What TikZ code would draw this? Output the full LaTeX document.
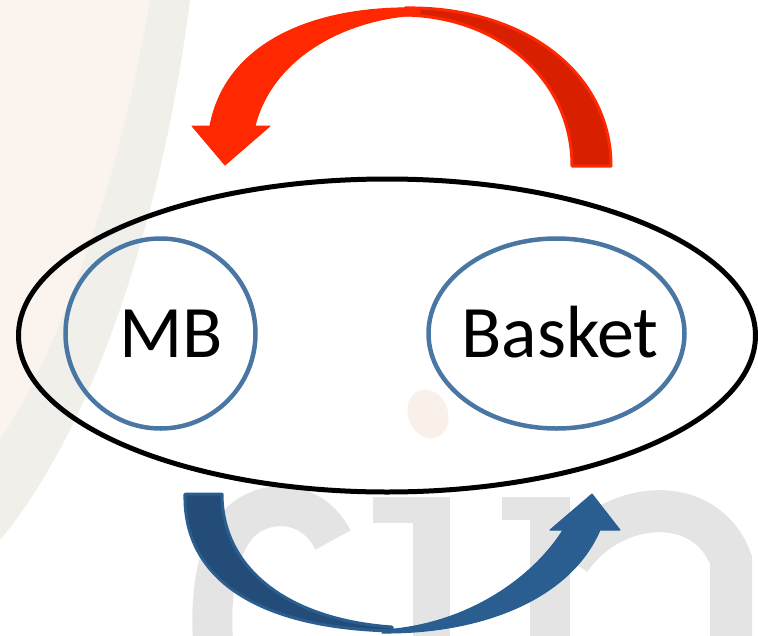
\documentclass[tikz,border=0pt]{standalone}
\usepackage{fontspec}
\setmainfont{Carlito}
\usetikzlibrary{shapes.geometric}
\definecolor{redfront}{HTML}{FF2800}
\definecolor{redback}{HTML}{D82000}
\definecolor{bluefront}{HTML}{2A5D90}
\definecolor{blueback}{HTML}{234C78}
\definecolor{ringblue}{HTML}{4A76A4}
\definecolor{wmgrey}{HTML}{E4E4E4}
\definecolor{wmpink}{HTML}{FBF3EE}
\definecolor{wmband}{HTML}{F0EFEA}
\definecolor{wmdot}{HTML}{FAF0EA}
\tikzset{
  outerring/.style={ellipse, draw=black, line width=5pt, inner sep=0pt},
  innerring/.style={ellipse, draw=ringblue, line width=4.5pt, inner sep=0pt, minimum height=190pt},
  lbl/.style={font=\fontsize{74}{80}\selectfont, inner sep=0pt, anchor=base},
  wm/.style={draw=wmgrey, line width=40pt},
  frontred/.style={fill=redfront, draw=redfront, line width=1pt, line join=round},
  backred/.style={fill=redback, draw=redfront, line width=3pt, line join=round},
  frontblue/.style={fill=bluefront, draw=bluefront, line width=1pt, line join=round},
  backblue/.style={fill=blueback, draw=bluefront, line width=3pt, line join=round},
}
\begin{document}
\begin{tikzpicture}[x=1pt,y=-1pt]
\useasboundingbox (0,0) rectangle (758,635);
% faint watermark
\fill[wmband] (0,0) -- (190,0) .. controls (165,200) and (100,420) .. (0,540) -- cycle;
\fill[wmpink] (0,0) -- (150,0) .. controls (120,180) and (60,350) .. (0,440) -- cycle;
\fill[wmdot, rotate around={20:(428,414)}] (428,414) ellipse (20pt and 25pt);
\draw[wm] (333,540) .. controls (315,505) and (280,500) .. (255,512)
          .. controls (215,530) and (210,600) .. (213,640);
\fill[wmgrey] (373,497) rectangle (450,523);
\fill[wmgrey] (413,497) rectangle (450,640);
\fill[wmgrey] (502,497) rectangle (570,520);
\fill[wmgrey] (530,497) rectangle (570,640);
\draw[wm, line width=42pt] (570,560) .. controls (610,500) and (705,490) .. (731,560) -- (731,640);
% ellipses and labels
\node[outerring, minimum width=737pt, minimum height=313pt] (whole) at (387,335.5) {};
\node[innerring, minimum width=190pt] (mbring) at (160.5,333.5) {};
\node[innerring, minimum width=256pt] (basketring) at (556.5,333.5) {};
\node[lbl] (mb) at (171,357) {MB};
\node[lbl] (basket) at (560,357) {Basket};
% red arrow (Basket -> MB)
\path[backred] (405,8) .. controls (520,6) and (611,70) .. (611,166)
   -- (572,166) .. controls (572,80) and (500,17) .. (405,15) -- cycle;
\path[frontred] (225,165) -- (192,126) -- (210,126)
   .. controls (225,45) and (310,5) .. (420,8)
   -- (420,15) .. controls (345,18) and (272,58) .. (255,126)
   -- (270,126) -- cycle;
% blue arrow (MB -> Basket)
\path[backblue] (185,494) .. controls (183,580) and (260,628) .. (392,631)
   -- (392,627) .. controls (290,620) and (222,570) .. (222,494) -- cycle;
\path[frontblue] (382,630) .. controls (470,625) and (535,575) .. (563,530)
   -- (550,530) -- (592,494) -- (620,530) -- (600,530)
   .. controls (570,600) and (480,634) .. (382,633) -- cycle;
\end{tikzpicture}
\end{document}
